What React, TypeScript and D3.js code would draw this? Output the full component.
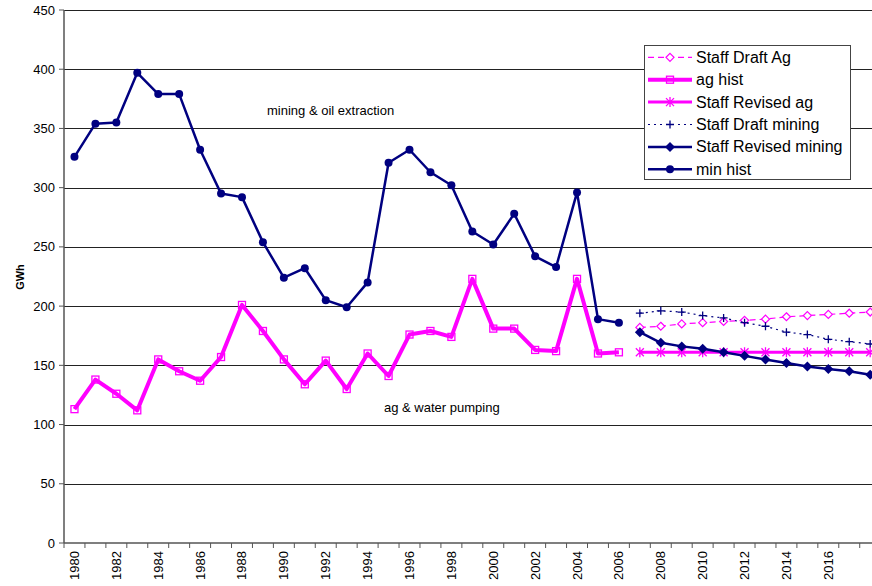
import * as React from "react"
import * as d3 from "d3"

const years = d3.range(1980, 2019)
const histYears = d3.range(1980, 2007)
const fcstYears = d3.range(2007, 2019)
const yTicks = [0, 50, 100, 150, 200, 250, 300, 350, 400, 450]
const xLabelYears = d3.range(1980, 2017, 2)

const minHist = [326, 354, 355, 397, 379, 379, 332, 295, 292, 254, 224, 232, 205, 199, 220, 321, 332, 313, 302, 263, 252, 278, 242, 233, 296, 189, 186]
const agHist = [113, 138, 126, 112, 155, 145, 137, 157, 201, 179, 155, 134, 154, 130, 160, 141, 176, 179, 174, 223, 181, 181, 163, 162, 223, 160, 161]
const draftAg = [182, 183, 185, 186, 187, 188, 189, 191, 192, 193, 194, 195]
const draftMining = [194, 196, 195, 192, 190, 186, 183, 178, 176, 172, 170, 168]
const revisedAg = [161, 161, 161, 161, 161, 161, 161, 161, 161, 161, 161, 161]
const revisedMining = [178, 169, 166, 164, 161, 158, 155, 152, 149, 147, 145, 142]

const NAVY = "#000080"
const MAG = "#ff00ff"
const FONT = "'Liberation Sans', Arial, sans-serif"

type Marker = "circle" | "square" | "diamond" | "hdiamond" | "star" | "plus"

function MarkerShape({ kind, x, y, color }: { kind: Marker; x: number; y: number; color: string }) {
  if (kind === "circle") return <circle cx={x} cy={y} r={4} fill={color} />
  if (kind === "square")
    return <rect x={x - 3.5} y={y - 3.5} width={7} height={7} fill="none" stroke={color} strokeWidth={1.3} />
  if (kind === "diamond")
    return <path d={`M${x},${y - 5}L${x + 5},${y}L${x},${y + 5}L${x - 5},${y}Z`} fill={color} />
  if (kind === "hdiamond")
    return <path d={`M${x},${y - 4}L${x + 4},${y}L${x},${y + 4}L${x - 4},${y}Z`} fill="white" stroke={color} strokeWidth={1.2} />
  if (kind === "star")
    return (
      <path
        d={`M${x - 4},${y - 4}L${x + 4},${y + 4}M${x - 4},${y + 4}L${x + 4},${y - 4}M${x},${y - 5}L${x},${y + 5}`}
        stroke={color}
        strokeWidth={1.3}
      />
    )
  return <path d={`M${x - 4},${y}L${x + 4},${y}M${x},${y - 4}L${x},${y + 4}`} stroke={color} strokeWidth={1.3} />
}

export default function App() {
  const width = 872
  const height = 586
  const x = d3.scaleBand<number>().domain(years).range([64, 64 + 39 * 20.94])
  const y = d3.scaleLinear().domain([0, 450]).range([543, 10])
  const cx = (yr: number) => (x(yr) || 0) + x.bandwidth() / 2

  const series = [
    { name: "Staff Draft Ag", yrs: fcstYears, vals: draftAg, color: MAG, w: 1.2, dash: "6,4", marker: "hdiamond" as Marker },
    { name: "ag hist", yrs: histYears, vals: agHist, color: MAG, w: 4, dash: undefined, marker: "square" as Marker },
    { name: "Staff Revised ag", yrs: fcstYears, vals: revisedAg, color: MAG, w: 3, dash: undefined, marker: "star" as Marker },
    { name: "Staff Draft mining", yrs: fcstYears, vals: draftMining, color: NAVY, w: 1.2, dash: "2,4", marker: "plus" as Marker },
    { name: "Staff Revised mining", yrs: fcstYears, vals: revisedMining, color: NAVY, w: 2.5, dash: undefined, marker: "diamond" as Marker },
    { name: "min hist", yrs: histYears, vals: minHist, color: NAVY, w: 2.5, dash: undefined, marker: "circle" as Marker },
  ]

  const line = d3
    .line<[number, number]>()
    .x((d) => cx(d[0]))
    .y((d) => y(d[1]))

  const drawOrder = [1, 5, 0, 3, 2, 4]

  return (
    <svg
      width={width}
      height={height}
      style={{ position: "absolute", left: 0, top: 0, background: "white" }}
      fontFamily={FONT}
    >
      {/* grid */}
      {yTicks.slice(1).map((t) => (
        <line key={t} x1={64} x2={width} y1={Math.round(y(t)) + 0.5} y2={Math.round(y(t)) + 0.5} stroke="#222" strokeWidth={1} />
      ))}
      {/* y axis */}
      <line x1={64} x2={64} y1={y(450)} y2={y(0)} stroke="#555" strokeWidth={1.5} />
      {yTicks.map((t) => (
        <g key={t}>
          <line x1={59} x2={64} y1={y(t)} y2={y(t)} stroke="#555" strokeWidth={1} />
          <text x={55} y={y(t)} textAnchor="end" dominantBaseline="central" fontSize={13} fill="#000">
            {t}
          </text>
        </g>
      ))}
      <text
        transform={`translate(20,277) rotate(-90)`}
        textAnchor="middle"
        dominantBaseline="central"
        fontSize={11}
        fontWeight="bold"
      >
        GWh
      </text>
      {/* x axis */}
      <line x1={64} x2={width} y1={y(0)} y2={y(0)} stroke="#555" strokeWidth={1.5} />
      {years.map((yr) => (
        <line key={yr} x1={x(yr) || 0} x2={x(yr) || 0} y1={y(0)} y2={y(0) + 5} stroke="#555" strokeWidth={1} />
      ))}
      <line x1={x.range()[1]} x2={x.range()[1]} y1={y(0)} y2={y(0) + 5} stroke="#555" />
      {xLabelYears.map((yr) => (
        <text
          key={yr}
          transform={`translate(${cx(yr)},551) rotate(-90)`}
          textAnchor="end"
          dominantBaseline="central"
          fontSize={13}
        >
          {yr}
        </text>
      ))}
      {/* series */}
      {drawOrder.map((i) => {
        const s = series[i]
        const pts = s.yrs.map((yr, j) => [yr, s.vals[j]] as [number, number])
        return (
          <g key={s.name}>
            <path d={line(pts) || ""} fill="none" stroke={s.color} strokeWidth={s.w} strokeDasharray={s.dash} strokeLinejoin="round" />
            {pts.map((p) => (
              <MarkerShape key={p[0]} kind={s.marker} x={cx(p[0])} y={y(p[1])} color={s.color} />
            ))}
          </g>
        )
      })}
      {/* annotations */}
      <text x={267} y={115} fontSize={13}>
        mining &amp; oil extraction
      </text>
      <text x={384} y={412} fontSize={13}>
        ag &amp; water pumping
      </text>
      {/* legend */}
      <rect x={644.5} y={45.5} width={206} height={134} fill="white" stroke="#444" strokeWidth={1} />
      {series.map((s, i) => {
        const ly = 57.3 + i * 22.4
        return (
          <g key={s.name}>
            <line x1={648} x2={692} y1={ly} y2={ly} stroke={s.color} strokeWidth={s.w} strokeDasharray={s.dash} />
            <MarkerShape kind={s.marker} x={670} y={ly} color={s.color} />
            <text x={696} y={ly} dominantBaseline="central" fontSize={16}>
              {s.name}
            </text>
          </g>
        )
      })}
    </svg>
  )
}
